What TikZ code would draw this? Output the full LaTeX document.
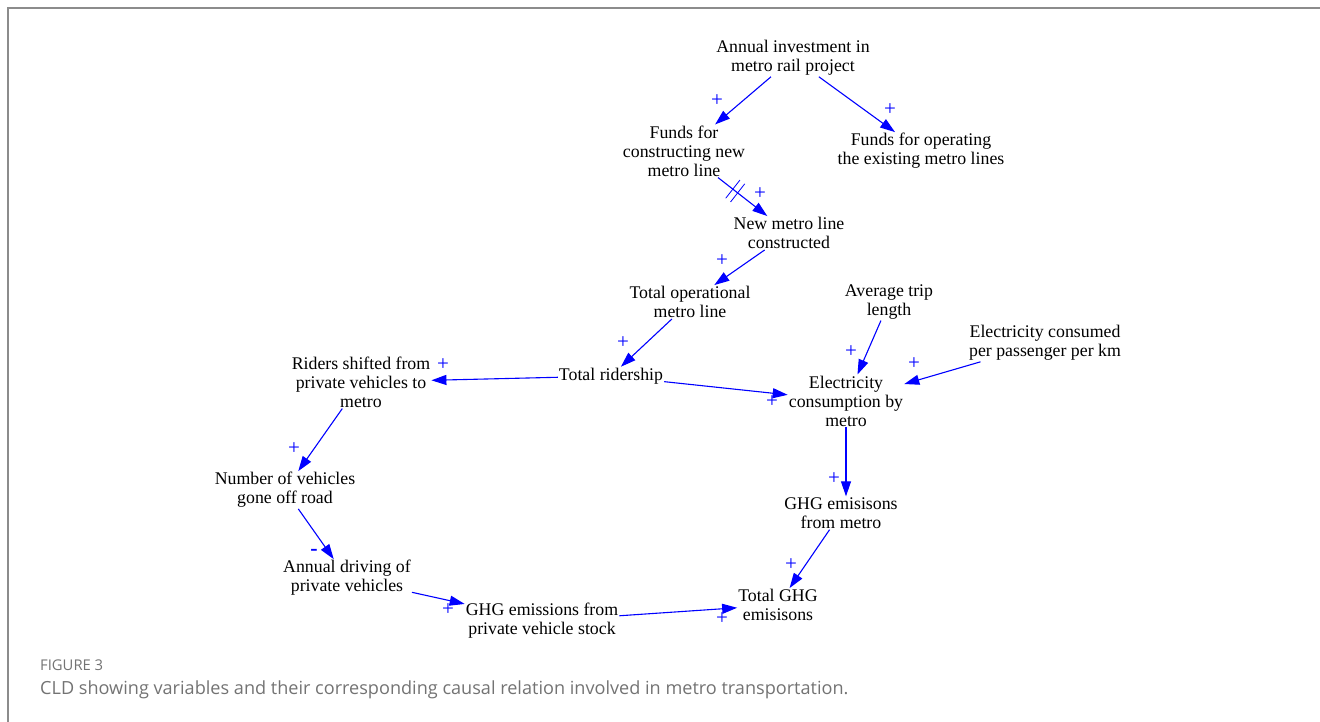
\documentclass[tikz,border=0pt]{standalone}
\usepackage{fontspec}
\setmainfont{Liberation Serif}
\newfontfamily\capfont{Open Sans}
\usepackage{xcolor}
\usetikzlibrary{arrows.meta}

\definecolor{framegray}{RGB}{140,140,140}
\definecolor{capgray}{RGB}{115,115,115}

\tikzset{
  var/.style={align=center, inner sep=1pt, font=\fontsize{17.8}{19}\selectfont},
  link/.style={blue, line width=1.1pt, -{Triangle[length=15pt,width=10pt]}},
  pol/.style={blue, inner sep=0pt, font=\fontsize{21}{21}\selectfont},
}

\begin{document}
\begin{tikzpicture}[x=1pt,y=-1pt]
  \useasboundingbox (0,0) rectangle (1320,722);

  % Frame
  \draw[framegray, line width=2pt] (8,722) -- (8,8) -- (1320,8);

  % Funding side
  \node[var] (invest) at (793,58) {Annual investment in\\metro rail project};
  \node[var] (fconstruct) at (684,151) {Funds for\\constructing new\\metro line};
  \node[var] (foperate) at (921,151) {Funds for operating\\the existing metro lines};
  \node[var] (newline) at (789,233) {New metro line\\constructed};
  \node[var] (opline) at (690,302) {Total operational\\metro line};

  % Ridership and electricity
  \node[var] (ridership) at (611,376) {Total ridership};
  \node[var] (triplen) at (889,302) {Average trip\\length};
  \node[var] (elecpp) at (1045,343) {Electricity consumed\\per passenger per km};
  \node[var] (eleccons) at (846,401) {Electricity\\consumption by\\metro};
  \node[var] (ghgmetro) at (841,513) {GHG emisisons\\from metro};

  % Private vehicles side
  \node[var] (shifted) at (361,382) {Riders shifted from\\private vehicles to\\metro};
  \node[var] (offroad) at (285,490) {Number of vehicles\\gone off road};
  \node[var] (driving) at (347,578) {Annual driving of\\private vehicles};
  \node[var] (ghgpriv) at (542,621) {GHG emissions from\\private vehicle stock};
  \node[var] (ghgtotal) at (778,605) {Total GHG\\emisisons};

  % Causal links
  \draw[link] (invest) -- (fconstruct);
  \draw[link] (invest) -- (foperate);
  \draw[link] (fconstruct) -- node[sloped, pos=0.35, minimum width=5pt, minimum height=22pt, inner sep=0pt] (delay) {} (newline);
  \draw[blue, line width=0.8pt] (delay.north west) -- (delay.south west)
                                (delay.north east) -- (delay.south east);
  \draw[link] (newline) -- (opline);
  \draw[link] (opline) -- (ridership);
  \draw[link] (ridership) -- (shifted);
  \draw[link] (ridership) -- (eleccons);
  \draw[link] (triplen) -- (eleccons);
  \draw[link] (elecpp) -- (eleccons);
  \draw[link] (eleccons) -- (eleccons |- ghgmetro.north);
  \draw[link] (ghgmetro) -- (ghgtotal);
  \draw[link] (shifted) -- (offroad);
  \draw[link] (offroad) -- (driving);
  \draw[link] (driving) -- (ghgpriv);
  \draw[link] (ghgpriv) -- (ghgtotal);

  % Polarities
  \node[pol] (p1) at (717,101) {+};
  \node[pol] (p2) at (890,110) {+};
  \node[pol] (p3) at (760,194) {+};
  \node[pol] (p4) at (722,261) {+};
  \node[pol] (p5) at (623,343) {+};
  \node[pol] (p6) at (443,365) {+};
  \node[pol] (p7) at (772,402) {+};
  \node[pol] (p8) at (851,352) {+};
  \node[pol] (p9) at (914,364) {+};
  \node[pol] (p10) at (834,479) {+};
  \node[pol] (p11) at (791,565) {+};
  \node[pol] (p12) at (294,449) {+};
  \node[pol, font=\bfseries\fontsize{22}{22}\selectfont] (p13) at (314,552) {-};
  \node[pol] (p14) at (448,610) {+};
  \node[pol] (p15) at (722,619) {+};

  % Caption
  \node[anchor=west, text=capgray, inner sep=0pt, font=\capfont\fontsize{14.8}{14.8}\selectfont] (figno) at (40,665) {FIGURE 3};
  \node[anchor=west, text=capgray, inner sep=0pt, font=\capfont\fontsize{18.1}{18.1}\selectfont] (caption) at (40,690) {CLD showing variables and their corresponding causal relation involved in metro transportation.};
\end{tikzpicture}
\end{document}
